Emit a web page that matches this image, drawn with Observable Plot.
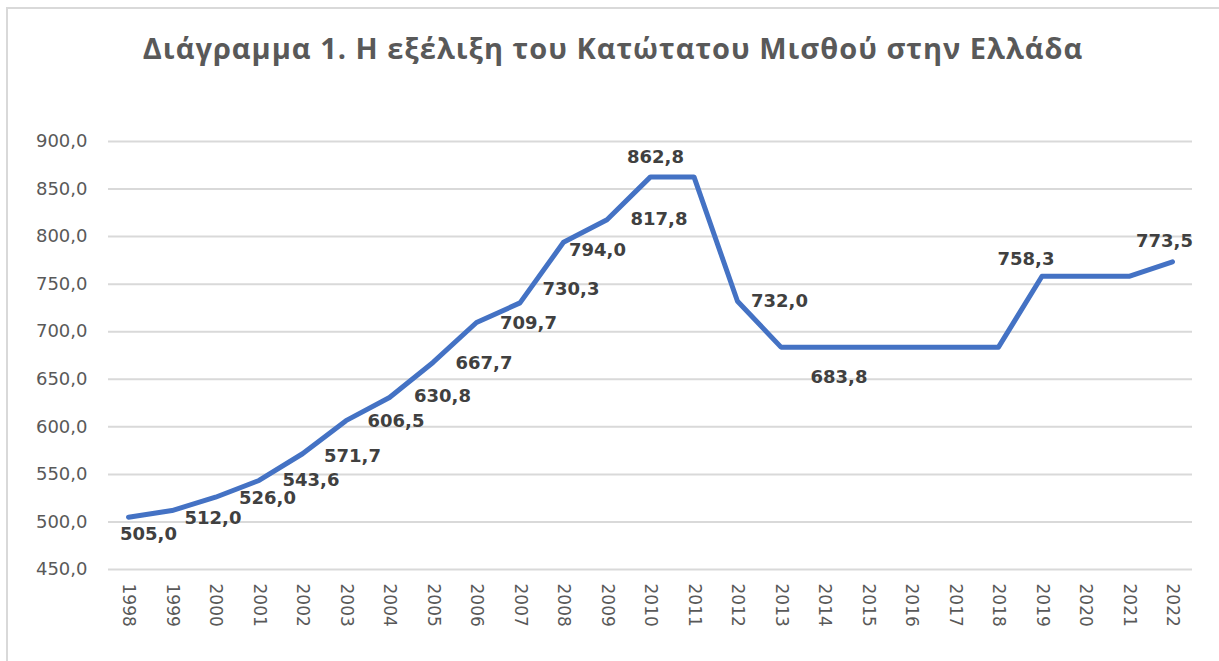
<!DOCTYPE html>
<html>
<head>
<meta charset="utf-8">
<script src="https://cdn.jsdelivr.net/npm/d3@7"></script>
<script src="https://cdn.jsdelivr.net/npm/@observablehq/plot@0.6"></script>
<style>
  html, body { margin: 0; padding: 0; background: #fff; width: 1219px; height: 661px; overflow: hidden; }
  #frame { position: absolute; left: 6px; top: 7px; width: 1300px; height: 700px;
           border-left: 2px solid #d9d9d9; border-top: 2px solid #d9d9d9; }
  #title { position: absolute; left: 0; top: 28px; width: 1226px; text-align: center;
           font-family: "Open Sans", sans-serif; font-weight: 700; font-size: 29px; letter-spacing: 1px; color: #595959; }
  #chart { position: absolute; left: 0; top: 100px; }
</style>
</head>
<body>
<div id="frame"></div>
<div id="title">Διάγραμμα 1. Η εξέλιξη του Κατώτατου Μισθού στην Ελλάδα</div>
<div id="chart"></div>
<script>
// Data
const years = ["1998","1999","2000","2001","2002","2003","2004","2005","2006","2007","2008","2009","2010","2011","2012","2013","2014","2015","2016","2017","2018","2019","2020","2021","2022"];
const minimumWage = [505.0,512.0,526.0,543.6,571.7,606.5,630.8,667.7,709.7,730.3,794.0,817.8,862.8,862.8,732.0,683.8,683.8,683.8,683.8,683.8,683.8,758.3,758.3,758.3,773.5];
const labeledYears = ["1998","1999","2000","2001","2002","2003","2004","2005","2006","2007","2008","2009","2010","2012","2015","2019","2022"];
const yTicks = [450,500,550,600,650,700,750,800,850,900];

// Label placement (layout only), relative to each labelled point
const labelPlacement = {
  "1998": [20, 17], "1999": [41, 8], "2000": [52, 1], "2001": [52, 0], "2002": [50, 2],
  "2003": [50, 1], "2004": [53, -1], "2005": [51, 1], "2006": [52, 1], "2007": [51, -14],
  "2008": [34, 8], "2009": [52, 0], "2010": [5, -20], "2012": [42, 0], "2015": [-29, 30],
  "2019": [-16, -17], "2022": [-8, -21]
};

const data = years.map((y, i) => ({year: y, value: minimumWage[i]}));
const labels = data.filter(d => labeledYears.includes(d.year));
const fmt = v => v.toFixed(1).replace(".", ",");

const labelMarks = labels.map(d => Plot.text([d], {
  x: "year", y: "value", text: r => fmt(r.value),
  dx: labelPlacement[d.year][0], dy: labelPlacement[d.year][1],
  textAnchor: "middle", lineAnchor: "middle",
  fontFamily: "DejaVu Sans", fontWeight: "bold", fontSize: 18, fill: "#404040"
}));

const chart = Plot.plot({
  width: 1219,
  height: 561,
  marginTop: 41,
  marginBottom: 92,
  marginLeft: 108,
  marginRight: 27,
  style: { fontFamily: "DejaVu Sans", fontSize: "18px", color: "#595959", background: "transparent" },
  x: { type: "point", domain: years, padding: 0.46, round: false, label: null },
  y: { domain: [450, 900], label: null },
  marks: [
    Plot.gridY(yTicks, { stroke: "#d9d9d9", strokeOpacity: 1, strokeWidth: 2 }),
    Plot.axisY(yTicks, { tickSize: 0, tickPadding: 21, tickFormat: fmt, fill: "#595959", fontSize: 18, label: null }),
    Plot.axisX(years, { tickSize: 0, tickPadding: 14, tickRotate: 90, fill: "#595959", fontSize: 17, label: null }),
    Plot.line(data, { x: "year", y: "value", stroke: "#4472C4", strokeWidth: 5, strokeLinejoin: "round", strokeLinecap: "round" }),
    ...labelMarks
  ]
});
document.getElementById("chart").appendChild(chart);
</script>
</body>
</html>
